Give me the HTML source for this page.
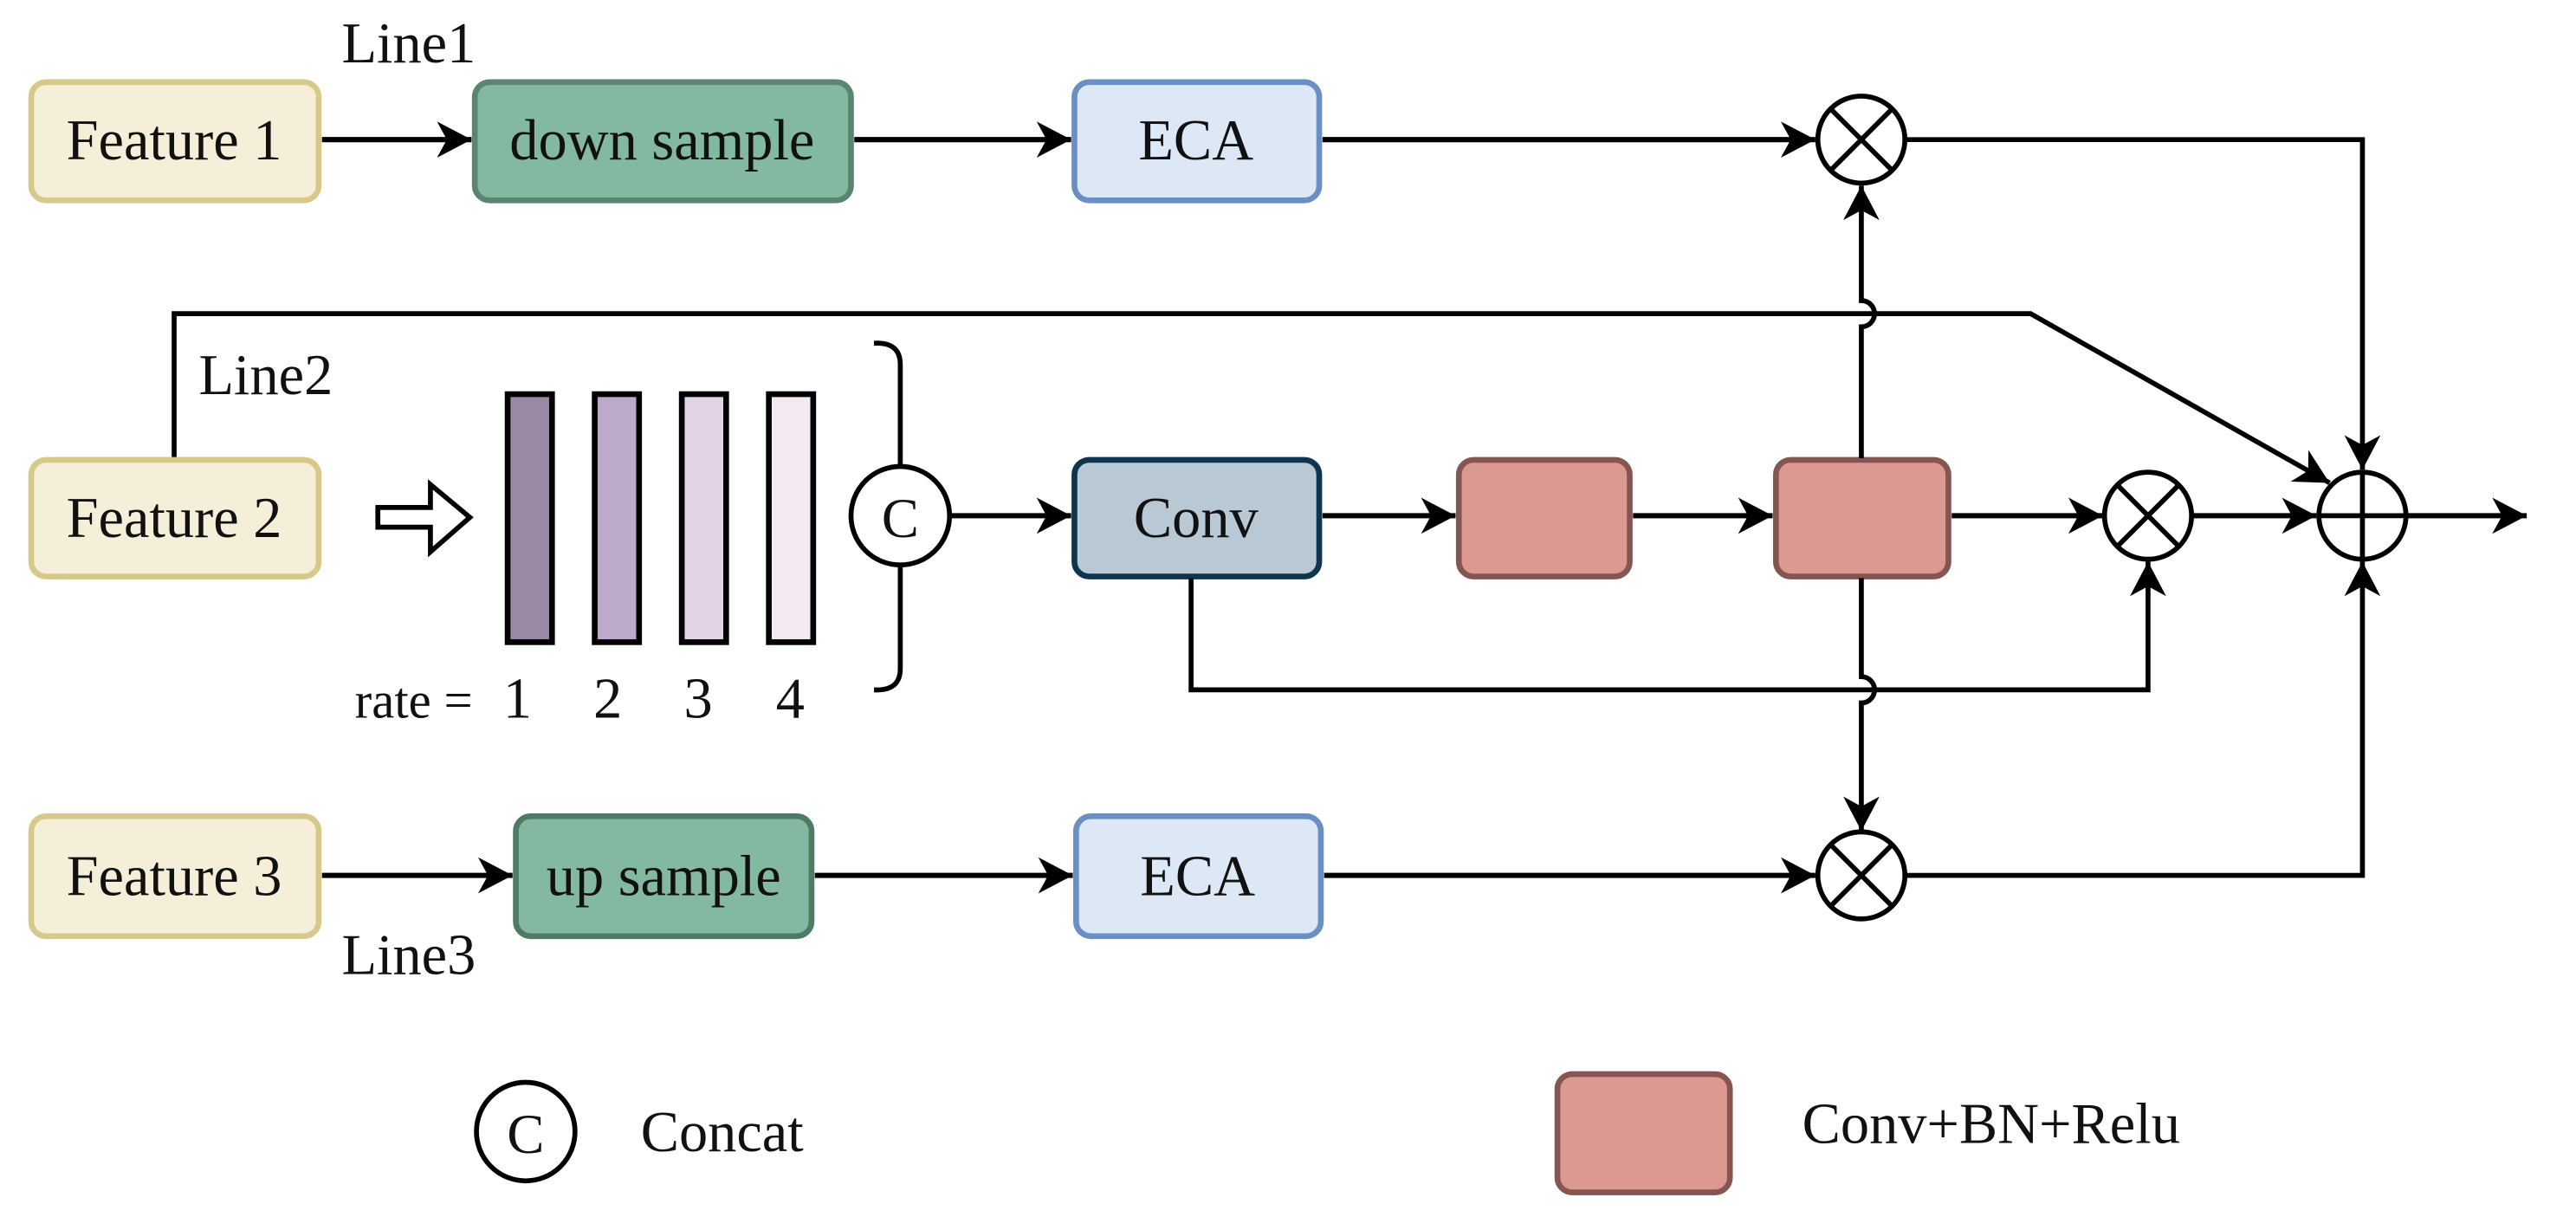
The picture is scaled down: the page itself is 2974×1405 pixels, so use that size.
<!DOCTYPE html>
<html><head><meta charset="utf-8"><style>
html,body{margin:0;padding:0;background:#fff;}
svg{display:block;}
text{font-family:"Liberation Serif",serif;fill:#111;}
</style></head><body>
<svg width="2974" height="1405" viewBox="0 0 1568 741" preserveAspectRatio="none" xmlns="http://www.w3.org/2000/svg">
<defs>
<marker id="a" markerUnits="userSpaceOnUse" markerWidth="24" markerHeight="24" refX="21" refY="11" orient="auto">
<path d="M0,0 L21,11 L0,22 L6,11 Z" fill="#000"/>
</marker>
</defs>
<rect width="1568" height="741" fill="#fff"/>

<rect x="19" y="50" width="175" height="72" rx="9" fill="#f5efd9" stroke="#d6c98a" stroke-width="3.5"/>
<text x="106" y="97" font-size="35" text-anchor="middle">Feature 1</text>
<text x="208" y="38" font-size="35">Line1</text>
<rect x="289" y="50" width="229" height="72" rx="9" fill="#83b9a0" stroke="#5a8570" stroke-width="3.5"/>
<text x="403" y="97" font-size="35" text-anchor="middle">down sample</text>
<rect x="654" y="50" width="149" height="72" rx="9" fill="#dce8f6" stroke="#6a8fc4" stroke-width="3.5"/>
<text x="728" y="97" font-size="35" text-anchor="middle">ECA</text>
<line x1="196" y1="85" x2="287" y2="85" stroke="#000" stroke-width="3.2" marker-end="url(#a)"/>
<line x1="520" y1="85" x2="652" y2="85" stroke="#000" stroke-width="3.2" marker-end="url(#a)"/>
<line x1="805" y1="85" x2="1105" y2="85" stroke="#000" stroke-width="3.2" marker-end="url(#a)"/>
<circle cx="1133" cy="85" r="26.5" fill="#fff" stroke="#000" stroke-width="3"/>
<line x1="1114" y1="66" x2="1152" y2="104" stroke="#000" stroke-width="3"/>
<line x1="1152" y1="66" x2="1114" y2="104" stroke="#000" stroke-width="3"/>
<polyline points="1160,85 1438,85 1438,286" fill="none" stroke="#000" stroke-width="3" marker-end="url(#a)"/>

<polyline points="106,279 106,191 1236,191 1418,294" fill="none" stroke="#000" stroke-width="3" marker-end="url(#a)"/>

<rect x="19" y="280" width="175" height="71" rx="9" fill="#f5efd9" stroke="#d6c98a" stroke-width="3.5"/>
<text x="106" y="327" font-size="35" text-anchor="middle">Feature 2</text>
<text x="121" y="240" font-size="35">Line2</text>
<path d="M230,309 L262,309 L262,295 L286,315 L262,336 L262,321 L230,321 Z" fill="#fff" stroke="#000" stroke-width="3"/>
<rect x="309" y="240" width="27" height="151" fill="#9a89a5" stroke="#000" stroke-width="3.5"/>
<rect x="362" y="240" width="27" height="151" fill="#bdaacb" stroke="#000" stroke-width="3.5"/>
<rect x="415" y="240" width="27" height="151" fill="#e3d3e6" stroke="#000" stroke-width="3.5"/>
<rect x="468" y="240" width="27" height="151" fill="#f3e9f2" stroke="#000" stroke-width="3.5"/>
<text x="216" y="437" font-size="31">rate =</text>
<text x="315" y="437" font-size="35" text-anchor="middle">1</text>
<text x="370" y="437" font-size="35" text-anchor="middle">2</text>
<text x="425" y="437" font-size="35" text-anchor="middle">3</text>
<text x="481" y="437" font-size="35" text-anchor="middle">4</text>
<path d="M532,209 Q548,208 548,222 L548,284 M548,345 L548,407 Q548,421 532,420" fill="none" stroke="#000" stroke-width="3"/>
<circle cx="548" cy="314" r="30" fill="#fff" stroke="#000" stroke-width="3"/>
<text x="548" y="327" font-size="34" text-anchor="middle">C</text>
<line x1="579" y1="314" x2="652" y2="314" stroke="#000" stroke-width="3.2" marker-end="url(#a)"/>
<rect x="654" y="280" width="149" height="71" rx="9" fill="#b8c8d4" stroke="#0e3550" stroke-width="3.5"/>
<text x="728" y="327" font-size="35" text-anchor="middle">Conv</text>
<line x1="805" y1="314" x2="886" y2="314" stroke="#000" stroke-width="3.2" marker-end="url(#a)"/>
<rect x="888" y="280" width="104" height="71" rx="9" fill="#db9991" stroke="#84564f" stroke-width="3.5"/>
<line x1="994" y1="314" x2="1079" y2="314" stroke="#000" stroke-width="3.2" marker-end="url(#a)"/>
<rect x="1081" y="280" width="105" height="71" rx="9" fill="#db9991" stroke="#84564f" stroke-width="3.5"/>
<line x1="1188" y1="314" x2="1280" y2="314" stroke="#000" stroke-width="3.2" marker-end="url(#a)"/>
<circle cx="1307.5" cy="314" r="26.5" fill="#fff" stroke="#000" stroke-width="3"/>
<line x1="1288.5" y1="295" x2="1326.5" y2="333" stroke="#000" stroke-width="3"/>
<line x1="1326.5" y1="295" x2="1288.5" y2="333" stroke="#000" stroke-width="3"/>
<line x1="1334" y1="314" x2="1410" y2="314" stroke="#000" stroke-width="3.2" marker-end="url(#a)"/>
<circle cx="1438" cy="314" r="26.5" fill="#fff" stroke="#000" stroke-width="3"/>
<line x1="1411.5" y1="314" x2="1464.5" y2="314" stroke="#000" stroke-width="3"/>
<line x1="1438" y1="287.5" x2="1438" y2="340.5" stroke="#000" stroke-width="3"/>
<line x1="1465" y1="314" x2="1538" y2="314" stroke="#000" stroke-width="3.2" marker-end="url(#a)"/>

<path d="M1133,279 L1133,199 A8,8 0 0,0 1133,183 L1133,113" fill="none" stroke="#000" stroke-width="3" marker-end="url(#a)"/>
<path d="M1133,352 L1133,412 A8,8 0 0,1 1133,428 L1133,506" fill="none" stroke="#000" stroke-width="3" marker-end="url(#a)"/>
<polyline points="725,352 725,420 1307.5,420 1307.5,342" fill="none" stroke="#000" stroke-width="3" marker-end="url(#a)"/>

<rect x="19" y="497" width="175" height="73" rx="9" fill="#f5efd9" stroke="#d6c98a" stroke-width="3.5"/>
<text x="106" y="545" font-size="35" text-anchor="middle">Feature 3</text>
<text x="208" y="593" font-size="35">Line3</text>
<rect x="314" y="497" width="180" height="73" rx="9" fill="#83b9a0" stroke="#4f7a64" stroke-width="3.5"/>
<text x="404" y="545" font-size="35" text-anchor="middle">up sample</text>
<rect x="655" y="497" width="149" height="73" rx="9" fill="#dce8f6" stroke="#6a8fc4" stroke-width="3.5"/>
<text x="729" y="545" font-size="35" text-anchor="middle">ECA</text>
<line x1="196" y1="533" x2="312" y2="533" stroke="#000" stroke-width="3.2" marker-end="url(#a)"/>
<line x1="496" y1="533" x2="653" y2="533" stroke="#000" stroke-width="3.2" marker-end="url(#a)"/>
<line x1="806" y1="533" x2="1105" y2="533" stroke="#000" stroke-width="3.2" marker-end="url(#a)"/>
<circle cx="1133" cy="533" r="26.5" fill="#fff" stroke="#000" stroke-width="3"/>
<line x1="1114" y1="514" x2="1152" y2="552" stroke="#000" stroke-width="3"/>
<line x1="1152" y1="514" x2="1114" y2="552" stroke="#000" stroke-width="3"/>
<polyline points="1160,533 1438,533 1438,342" fill="none" stroke="#000" stroke-width="3" marker-end="url(#a)"/>

<circle cx="320" cy="689" r="30" fill="#fff" stroke="#000" stroke-width="3"/>
<text x="320" y="702" font-size="34" text-anchor="middle">C</text>
<text x="390" y="701" font-size="35">Concat</text>
<rect x="948" y="654" width="105" height="72" rx="9" fill="#db9991" stroke="#84564f" stroke-width="3.5"/>
<text x="1097" y="696" font-size="35">Conv+BN+Relu</text>
</svg>
</body></html>
